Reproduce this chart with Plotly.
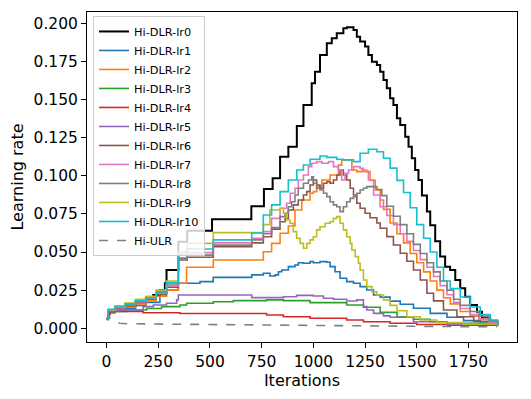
import plotly.graph_objects as go

# ---- data (iteration, learning rate) ----
it_lr0 = [0, 8, 40, 90, 140, 190, 226, 258, 282, 290, 347, 390, 510, 700, 761, 803, 839, 879, 920,
          952, 992, 1008, 1032, 1065, 1089, 1113, 1145, 1162, 1194, 1210, 1226, 1250, 1266, 1283,
          1307, 1323, 1339, 1355, 1371, 1387, 1404, 1420, 1444, 1460, 1476, 1492, 1508, 1525, 1549,
          1565, 1589, 1613, 1637, 1661, 1686, 1710, 1734, 1758, 1791, 1815, 1855, 1890]
lr0 = [0.006, 0.011, 0.0125, 0.0145, 0.017, 0.0195, 0.0218, 0.0251, 0.0295, 0.0382, 0.0568, 0.064,
       0.0715, 0.080, 0.0913, 0.0984, 0.1125, 0.119, 0.1327, 0.1464, 0.1607, 0.1683, 0.1792, 0.1869,
       0.1902, 0.1934, 0.1967, 0.1974, 0.1956, 0.1912, 0.188, 0.1847, 0.1792, 0.1748, 0.1727,
       0.1683, 0.1628, 0.1574, 0.1508, 0.1464, 0.1377, 0.1333, 0.1256, 0.119, 0.1115, 0.1038,
       0.0972, 0.0870, 0.0765, 0.0675, 0.0570, 0.047, 0.0404, 0.0382, 0.0317, 0.0262, 0.0207,
       0.0153, 0.0109, 0.0066, 0.0043, 0.0026]

it_lr1 = [0, 8, 40, 90, 140, 190, 258, 290, 347, 452, 516, 702, 758, 790, 815, 831, 847, 879, 911,
          927, 952, 984, 1000, 1032, 1065, 1081, 1105, 1129, 1161, 1194, 1226, 1258, 1291, 1323,
          1371, 1420, 1484, 1565, 1646, 1726, 1807, 1890]
lr1 = [0.006, 0.011, 0.012, 0.013, 0.015, 0.017, 0.023, 0.025, 0.0295, 0.0306, 0.0334, 0.035,
       0.0361, 0.0343, 0.035, 0.0371, 0.0382, 0.0404, 0.0415, 0.043, 0.0426, 0.0437, 0.043, 0.0437,
       0.0433, 0.0404, 0.0371, 0.0328, 0.0306, 0.0295, 0.0273, 0.0251, 0.0218, 0.0204, 0.0178,
       0.0158, 0.0131, 0.0098, 0.0072, 0.005, 0.0033, 0.0022]

it_lr2 = [0, 8, 40, 90, 140, 190, 240, 290, 347, 387, 516, 758, 798, 839, 879, 911, 944, 984, 1000,
          1016, 1041, 1081, 1121, 1137, 1186, 1210, 1234, 1258, 1274, 1299, 1323, 1339, 1371, 1404,
          1436, 1468, 1500, 1533, 1565, 1597, 1629, 1662, 1710, 1758, 1800, 1850, 1890]
lr2 = [0.006, 0.0115, 0.0125, 0.014, 0.016, 0.018, 0.021, 0.025, 0.0295, 0.040, 0.0448, 0.0502,
       0.0557, 0.0623, 0.0671, 0.0776, 0.0841, 0.0885, 0.0896, 0.0929, 0.0972, 0.1005, 0.107,
       0.1104, 0.1038, 0.1027, 0.1038, 0.1027, 0.097, 0.0907, 0.0841, 0.078, 0.069, 0.062, 0.056,
       0.049, 0.043, 0.037, 0.031, 0.025, 0.020, 0.016, 0.011, 0.008, 0.006, 0.004, 0.002]

it_lr3 = [0, 8, 40, 97, 177, 194, 266, 355, 387, 516, 613, 774, 855, 984, 1161, 1242, 1323, 1404,
          1484, 1565, 1646, 1890]
lr3 = [0.006, 0.010, 0.011, 0.012, 0.012, 0.013, 0.0142, 0.0153, 0.0164, 0.0174, 0.0181, 0.0186,
       0.0181, 0.0168, 0.0153, 0.0138, 0.0104, 0.0076, 0.0059, 0.0043, 0.0033, 0.0018]

it_lr4 = [0, 8, 16, 97, 177, 355, 694, 774, 855, 984, 1161, 1242, 1371, 1500, 1650, 1890]
lr4 = [0.006, 0.0087, 0.011, 0.011, 0.0102, 0.0097, 0.0097, 0.0087, 0.0076, 0.0066, 0.0054,
       0.0043, 0.0033, 0.0025, 0.002, 0.0015]

it_lr5 = [0, 8, 40, 64, 177, 226, 290, 339, 347, 452, 702, 823, 855, 919, 1000, 1049, 1097, 1161,
          1210, 1242, 1258, 1291, 1339, 1371, 1484, 1646, 1890]
lr5 = [0.006, 0.011, 0.0115, 0.012, 0.0142, 0.0153, 0.0164, 0.0186, 0.0218, 0.0218, 0.0201,
       0.0201, 0.0207, 0.0216, 0.0212, 0.0197, 0.019, 0.0179, 0.0186, 0.0142, 0.012, 0.0098,
       0.0081, 0.0072, 0.0043, 0.0028, 0.0018]

it_lr6 = [0, 8, 40, 90, 140, 190, 240, 290, 347, 390, 516, 702, 758, 798, 839, 863, 879, 903, 927,
          952, 968, 984, 1000, 1016, 1032, 1049, 1065, 1081, 1097, 1113, 1129, 1145, 1161, 1178,
          1194, 1210, 1226, 1250, 1274, 1307, 1323, 1355, 1387, 1420, 1452, 1484, 1517, 1549, 1581,
          1629, 1694, 1775, 1890]
lr6 = [0.006, 0.0115, 0.013, 0.015, 0.017, 0.019, 0.022, 0.027, 0.0448, 0.0466, 0.0535, 0.056,
       0.060, 0.065, 0.0699, 0.0721, 0.0776, 0.0809, 0.0841, 0.0874, 0.0896, 0.094, 0.0972, 0.094,
       0.0918, 0.0951, 0.0961, 0.0951, 0.0972, 0.1005, 0.1038, 0.1005, 0.0972, 0.0918, 0.0874,
       0.082, 0.0787, 0.0754, 0.0725, 0.069, 0.0656, 0.0601, 0.0546, 0.0492, 0.0440, 0.0382,
       0.0317, 0.0230, 0.0180, 0.0120, 0.0076, 0.0045, 0.0015]

it_lr7 = [0, 8, 40, 90, 140, 190, 240, 290, 347, 390, 516, 702, 758, 798, 839, 871, 888, 911, 927,
          952, 976, 992, 1016, 1041, 1073, 1097, 1121, 1137, 1153, 1170, 1194, 1226, 1242, 1266,
          1291, 1323, 1355, 1387, 1420, 1452, 1484, 1517, 1549, 1581, 1613, 1646, 1678, 1710, 1758,
          1800, 1850, 1890]
lr7 = [0.006, 0.012, 0.0135, 0.0155, 0.0175, 0.0195, 0.023, 0.028, 0.048, 0.0496, 0.056, 0.059,
       0.0634, 0.0721, 0.0787, 0.082, 0.0885, 0.0918, 0.0972, 0.1005, 0.106, 0.1082, 0.1093,
       0.1082, 0.1093, 0.106, 0.1038, 0.0972, 0.1016, 0.1038, 0.106, 0.1049, 0.1027, 0.0972,
       0.0874, 0.0797, 0.074, 0.068, 0.062, 0.057, 0.051, 0.045, 0.040, 0.034, 0.028, 0.022,
       0.017, 0.013, 0.009, 0.006, 0.004, 0.0022]

it_lr8 = [0, 8, 40, 90, 140, 190, 240, 290, 347, 390, 516, 702, 758, 798, 839, 863, 879, 895, 911,
          927, 952, 976, 992, 1000, 1016, 1032, 1049, 1065, 1081, 1097, 1113, 1129, 1145, 1161, 1178,
          1194, 1210, 1226, 1242, 1258, 1283, 1307, 1331, 1355, 1387, 1420, 1452, 1484, 1517, 1549,
          1581, 1613, 1646, 1678, 1710, 1758, 1800, 1850, 1890]
lr8 = [0.006, 0.012, 0.0145, 0.016, 0.018, 0.020, 0.0235, 0.029, 0.046, 0.048, 0.0545, 0.058,
       0.062, 0.066, 0.0732, 0.0754, 0.0797, 0.083, 0.0874, 0.0918, 0.0951, 0.0972, 0.0994, 0.0951,
       0.0918, 0.0907, 0.0885, 0.0863, 0.083, 0.0809, 0.0797, 0.0765, 0.0797, 0.083, 0.0852,
       0.0863, 0.0885, 0.0907, 0.0918, 0.0929, 0.0929, 0.091, 0.087, 0.080, 0.0735, 0.068, 0.062,
       0.055, 0.049, 0.043, 0.037, 0.031, 0.025, 0.019, 0.015, 0.011, 0.008, 0.005, 0.0025]

it_lr9 = [0, 8, 40, 90, 140, 190, 240, 290, 347, 390, 516, 758, 790, 839, 855, 871, 887, 903, 919,
          936, 952, 968, 984, 1000, 1016, 1032, 1057, 1081, 1097, 1113, 1129, 1145, 1161, 1178,
          1186, 1202, 1218, 1226, 1242, 1258, 1283, 1307, 1339, 1371, 1404, 1452, 1517, 1597, 1726,
          1890]
lr9 = [0.006, 0.012, 0.0145, 0.0165, 0.019, 0.021, 0.025, 0.031, 0.049, 0.0557, 0.0627, 0.068,
       0.0776, 0.0787, 0.0754, 0.071, 0.0689, 0.0634, 0.059, 0.0557, 0.0525, 0.0557, 0.058, 0.060,
       0.0645, 0.0666, 0.0689, 0.0699, 0.0721, 0.0732, 0.0689, 0.0645, 0.060, 0.0557, 0.0513,
       0.047, 0.0426, 0.0382, 0.0317, 0.0273, 0.024, 0.0218, 0.0186, 0.0150, 0.0115, 0.0076,
       0.0054, 0.0037, 0.0026, 0.002]

it_lr10 = [0, 8, 40, 90, 140, 190, 240, 290, 347, 390, 516, 702, 758, 798, 839, 879, 920, 952, 984,
           1032, 1065, 1113, 1145, 1194, 1226, 1266, 1307, 1339, 1371, 1404, 1436, 1468, 1500, 1533,
           1565, 1597, 1629, 1662, 1710, 1758, 1807, 1855, 1890]
lr10 = [0.006, 0.0125, 0.014, 0.016, 0.018, 0.020, 0.024, 0.030, 0.0502, 0.052, 0.058, 0.0625,
        0.0743, 0.0809, 0.0896, 0.0972, 0.1038, 0.1071, 0.1108, 0.113, 0.1121, 0.1108, 0.1104,
        0.1093, 0.1148, 0.1174, 0.1158, 0.1115, 0.105, 0.097, 0.089, 0.079, 0.068, 0.059, 0.050,
        0.040, 0.031, 0.026, 0.0205, 0.014, 0.009, 0.0054, 0.0025]

it_ulr = [0, 8, 20, 40, 64, 100, 300, 500, 700, 900, 1100, 1300, 1500, 1700, 1890]
ulr = [0.0055, 0.0085, 0.006, 0.0043, 0.0033, 0.003, 0.0027, 0.0024, 0.0022, 0.0019, 0.0017,
       0.0015, 0.0013, 0.0011, 0.001]

dlr_series = [
    ("Hi-DLR-lr0", it_lr0, lr0, "#000000"),
    ("Hi-DLR-lr1", it_lr1, lr1, "#1f77b4"),
    ("Hi-DLR-lr2", it_lr2, lr2, "#ff7f0e"),
    ("Hi-DLR-lr3", it_lr3, lr3, "#2ca02c"),
    ("Hi-DLR-lr4", it_lr4, lr4, "#d62728"),
    ("Hi-DLR-lr5", it_lr5, lr5, "#9467bd"),
    ("Hi-DLR-lr6", it_lr6, lr6, "#8c564b"),
    ("Hi-DLR-lr7", it_lr7, lr7, "#e377c2"),
    ("Hi-DLR-lr8", it_lr8, lr8, "#7f7f7f"),
    ("Hi-DLR-lr9", it_lr9, lr9, "#bcbd22"),
    ("Hi-DLR-lr10", it_lr10, lr10, "#17becf"),
]

fig = go.Figure()
for name, xs, ys, color in dlr_series:
    fig.add_scatter(
        x=xs, y=ys, name=name, mode="lines",
        line=dict(color=color, width=2 if name == "Hi-DLR-lr0" else 1.6, shape="hv"),
    )

fig.add_scatter(
    x=it_ulr, y=ulr, name="Hi-ULR", mode="lines",
    line=dict(color="#808080", width=1.6, dash="dash"),
)

axis_style = dict(
    showline=True, linecolor="black", linewidth=1, mirror=True,
    ticks="outside", ticklen=5, tickcolor="black", showgrid=False, zeroline=False,
    tickfont=dict(size=15.5, color="black"),
)

# the page body has an 8px default margin, so the figure is sized/offset to compensate
fig.update_layout(
    width=523, height=391,
    margin=dict(l=79, r=14, t=4, b=57),
    paper_bgcolor="white", plot_bgcolor="white",
    font=dict(family="DejaVu Sans", color="black"),
    xaxis=dict(
        range=[-94.5, 1984.5], tickvals=[0, 250, 500, 750, 1000, 1250, 1500, 1750],
        title=dict(text="Iterations", font=dict(size=16), standoff=4), **axis_style,
    ),
    yaxis=dict(
        range=[-0.009, 0.2074], tickvals=[0, 0.025, 0.05, 0.075, 0.1, 0.125, 0.15, 0.175, 0.2],
        tickformat=".3f",
        title=dict(text="Learning rate", font=dict(size=16), standoff=6), **axis_style,
    ),
    legend=dict(
        x=0.014, y=0.988, xanchor="left", yanchor="top",
        bgcolor="rgba(255,255,255,0.8)", bordercolor="#cccccc", borderwidth=1,
        font=dict(size=11.3), itemwidth=30, tracegroupgap=0,
    ),
    showlegend=True,
)

fig.write_html("out.html")
